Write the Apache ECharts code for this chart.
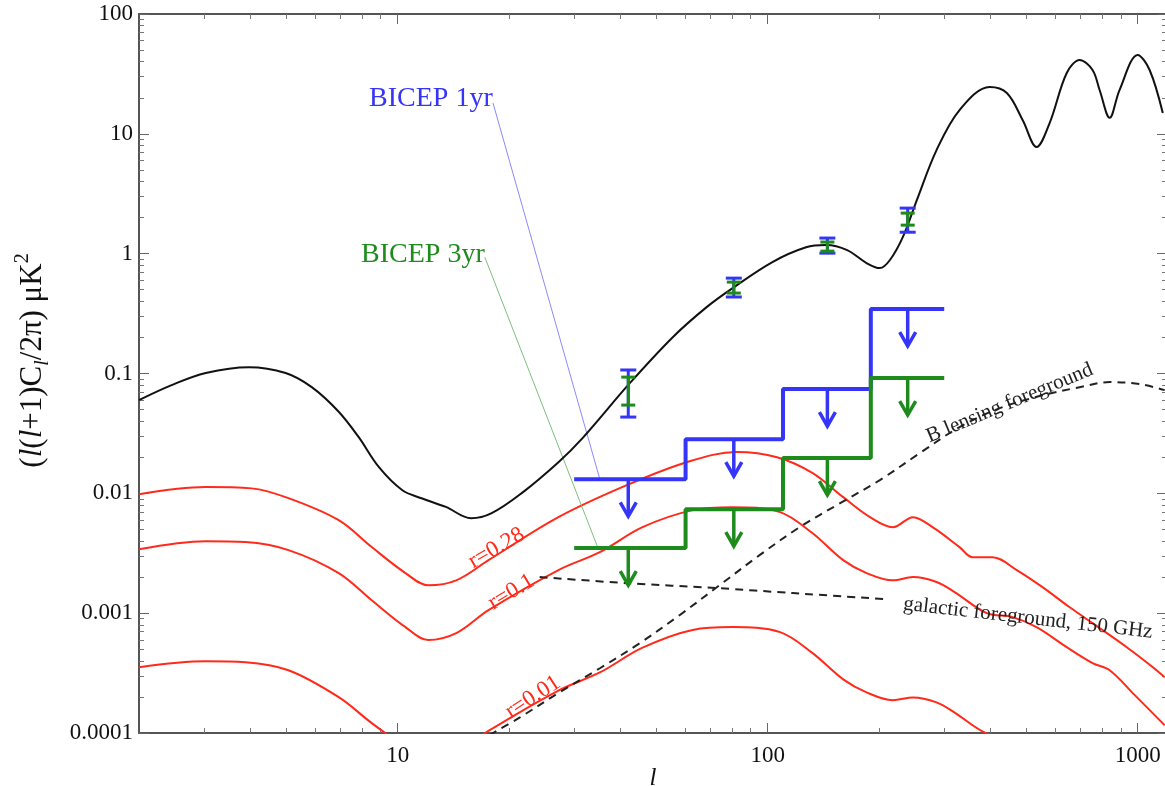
<!DOCTYPE html>
<html>
<head>
<meta charset="utf-8">
<script src="https://cdn.jsdelivr.net/npm/echarts@6/dist/echarts.min.js"></script>
<style>
  html, body { margin: 0; background: #fff; }
  #main { width: 1165px; height: 786px; }
</style>
</head>
<body>
<div id="main"></div>
<script>
// l, l(l+1)C_l/2pi in uK^2
var eeCurve = [[2.0,0.060],[2.45,0.080],[3.03,0.101],[3.96,0.113],[4.98,0.101],[5.86,0.077],[6.93,0.048],
  [7.85,0.0294],[8.89,0.0166],[10.3,0.0106],[11.6,0.0091],[13.5,0.0077],[15.8,0.0062],[17.9,0.0068],
  [21.6,0.0100],[27.2,0.0182],[31.6,0.0289],[42.4,0.083],[55.4,0.201],[68.4,0.358],[80.4,0.516],
  [103,0.851],[127,1.13],[144,1.18],[164,1.07],[185,0.835],[201,0.758],[214,0.885],[232,1.38],
  [253,2.80],[286,7.32],[330,15.8],[398,24.6],[443,21.9],[489,13.0],[533,7.76],
  [578,12.3],[643,32.2],[697,41.3],[755,34.1],[789,23.2],[840,13.6],[893,23.2],[1000,45.5],[1077,34.1],[1169,14.9]];

var bbR028 = [[2.0,0.00984],[3.03,0.0113],[4.03,0.0110],[5.07,0.00912],[6.93,0.00597],[8.51,0.00356],
  [10.5,0.00216],[12.1,0.00171],[14.4,0.00188],[17.6,0.00277],[27.2,0.00633],[41.6,0.0117],[60.4,0.0182],
  [82.4,0.0221],[106,0.0200],[132,0.0148],[160,0.00929],[189,0.00633],[218,0.00522],[247,0.00633],
  [279,0.00522],[330,0.00356],[358,0.00293],[405,0.00293],[471,0.00229],[553,0.00165],[655,0.00112],
  [755,0.000826],[934,0.000520],[1099,0.000354],[1183,0.000292]];

var bbR010 = [[2.0,0.00342],[3.03,0.00399],[3.88,0.00392],[5.07,0.00336],[6.93,0.00216],[8.51,0.00128],
  [10.5,0.000764],[12.1,0.000596],[14.4,0.000681],[17.6,0.00106],[27.2,0.00229],[35.2,0.00323],
  [45.9,0.00522],[62.7,0.00724],[80.4,0.00767],[108,0.00697],[132,0.00466],[160,0.00277],[185,0.00216],
  [218,0.00188],[247,0.00200],[286,0.00182],[320,0.00150],[391,0.00100],[459,0.000927],[533,0.000764],
  [643,0.000520],[755,0.000383],[840,0.000334],[982,0.000207],[1183,0.000116]];

var bbR001 = [[2.0,0.000354],[3.03,0.000397],[3.88,0.000390],[5.07,0.000334],[6.93,0.000199],
  [8.51,0.000121],[10.5,0.0000764],[12.1,0.0000596],[14.4,0.0000681],[17.6,0.000104],[27.2,0.000226],
  [35.2,0.000320],[45.9,0.000515],[62.7,0.000725],[80.4,0.000765],[108,0.000695],[132,0.000466],
  [160,0.000280],[185,0.000218],[218,0.000188],[247,0.000198],[286,0.000180],[320,0.000148],
  [391,0.0000990],[459,0.0000920]];

var lensing = [[17.7,0.0000959],[21.4,0.000135],[27.4,0.000219],[35.2,0.000347],[45.1,0.000562],
  [57.8,0.000962],[74.1,0.00171],[95.1,0.00305],[122,0.00522],[157,0.00828],[201,0.0129],[258,0.0217],
  [330,0.0357],[424,0.0514],[543,0.0648],[697,0.0769],[840,0.0848],[1012,0.0816],[1183,0.0727]];

var galactic = [[24.2,0.00200],[41.6,0.00178],[72.8,0.00162],[117,0.00147],[207,0.00131]];

// BICEP BB upper limits
var binEdges = [30, 60, 110, 190, 300];
var binCentres = [42, 81, 145, 239];
var bicep1yr = [0.0131, 0.0283, 0.0741, 0.345];
var bicep3yr = [0.00349, 0.00738, 0.0197, 0.0916];

// EE band powers: l, low, high
var eeBars1yr = [[42,0.0433,0.107],[81,0.435,0.625],[145,1.01,1.35],[239,1.51,2.40]];
var eeBars3yr = [[42,0.0545,0.0933],[81,0.469,0.579],[145,1.05,1.25],[239,1.73,2.18]];

// axes
var xTicks = [10, 100, 1000];
var xTickLabels = ['10', '100', '1000'];
var xMinor = [3,4,5,6,7,8,9, 20,30,40,50,60,70,80,90, 200,300,400,500,600,700,800,900];
var yTicks = [0.0001, 0.001, 0.01, 0.1, 1, 10, 100];
var yTickLabels = ['0.0001', '0.001', '0.01', '0.1', '1', '10', '100'];
var yMinor = [0.0002,0.0003,0.0004,0.0005,0.0006,0.0007,0.0008,0.0009,
  0.002,0.003,0.004,0.005,0.006,0.007,0.008,0.009,
  0.02,0.03,0.04,0.05,0.06,0.07,0.08,0.09,
  0.2,0.3,0.4,0.5,0.6,0.7,0.8,0.9,
  2,3,4,5,6,7,8,9, 20,30,40,50,60,70,80,90];

var serif = '"Liberation Serif", "DejaVu Serif", serif';
var blue = '#3535f8', green = '#1d8c1d', red = '#ff2a1a';

function tickLabel(ticks, labels) {
  return function (v) {
    for (var i = 0; i < ticks.length; i++) {
      if (Math.abs(Math.log10(v) - Math.log10(ticks[i])) < 1e-6) return labels[i];
    }
    return '';
  };
}

function stepData(edges, levels) {
  var d = [];
  for (var i = 0; i < levels.length; i++) d.push([edges[i], levels[i]]);
  d.push([edges[edges.length - 1], levels[levels.length - 1]]);
  return d;
}

function arrowData(levels) {
  return binCentres.map(function (l, i) { return [l, levels[i]]; });
}

// down arrow hanging from an upper limit
function arrowItem(color) {
  return function (params, api) {
    var p = api.coord([api.value(0), api.value(1)]);
    var len = 37, hw = 8, hh = 14;
    return {
      type: 'group',
      children: [
        { type: 'line', shape: { x1: p[0], y1: p[1], x2: p[0], y2: p[1] + len },
          style: { stroke: color, lineWidth: 3.5 } },
        { type: 'polyline', shape: { points: [[p[0] - hw, p[1] + len - hh], [p[0], p[1] + len], [p[0] + hw, p[1] + len - hh]] },
          style: { stroke: color, fill: null, lineWidth: 3.5 } }
      ]
    };
  };
}

// error bar with caps
function barItem(color, cap) {
  return function (params, api) {
    var lo = api.coord([api.value(0), api.value(1)]);
    var hi = api.coord([api.value(0), api.value(2)]);
    var st = { stroke: color, lineWidth: 3 };
    return {
      type: 'group',
      children: [
        { type: 'line', shape: { x1: lo[0], y1: lo[1], x2: hi[0], y2: hi[1] }, style: st },
        { type: 'line', shape: { x1: lo[0] - cap, y1: lo[1], x2: lo[0] + cap, y2: lo[1] }, style: st },
        { type: 'line', shape: { x1: hi[0] - cap, y1: hi[1], x2: hi[0] + cap, y2: hi[1] }, style: st }
      ]
    };
  };
}

function logAxis(pos, ticks, minor, range, showLine) {
  var main = {
    type: 'log', logBase: 10, position: pos, min: range[0], max: range[1],
    axisLine: { show: showLine, onZero: false, lineStyle: { color: '#555', width: 2 } },
    axisTick: { show: true, inside: true, length: 10, customValues: ticks, lineStyle: { color: '#666', width: 1 } },
    axisLabel: { show: false },
    splitLine: { show: false },
    minorTick: { show: false }
  };
  var sub = {
    type: 'log', logBase: 10, position: pos, min: range[0], max: range[1],
    axisLine: { show: false },
    axisTick: { show: true, inside: true, length: 5, customValues: minor, lineStyle: { color: '#777', width: 1 } },
    axisLabel: { show: false },
    splitLine: { show: false }
  };
  return [main, sub];
}

var xRange = [2, 1200], yRange = [0.0001, 100];
var xb = logAxis('bottom', xTicks, xMinor, xRange, true);
var xt = logAxis('top', xTicks, xMinor, xRange, true);
var yl = logAxis('left', yTicks, yMinor, yRange, true);
var yr = logAxis('right', yTicks, yMinor, yRange, false);

xb[0].axisLabel = { show: true, customValues: xTicks, formatter: tickLabel(xTicks, xTickLabels),
  margin: 11, color: '#111', fontFamily: serif, fontSize: 23 };
xb[0].name = '{i|l}';
xb[0].nameLocation = 'middle';
xb[0].nameGap = 33;
xb[0].nameMoveOverlap = false;
xb[0].nameTextStyle = { rich: { i: { fontFamily: serif, fontStyle: 'italic', fontSize: 25, color: '#111' } } };

yl[0].axisLabel = { show: true, customValues: yTicks, formatter: tickLabel(yTicks, yTickLabels),
  margin: 6, color: '#111', fontFamily: serif, fontSize: 23 };
yl[0].name = '{n|(}{i|l}{n|(}{i|l}{n|+1)C}{s|l}{n|/2π) μK}{p|2}';
yl[0].nameLocation = 'middle';
yl[0].nameGap = 86;
yl[0].nameMoveOverlap = false;
yl[0].nameTextStyle = {
  padding: [0, 0, 0, 26],
  rich: {
    n: { fontFamily: serif, fontSize: 31, color: '#111', lineHeight: 40 },
    i: { fontFamily: serif, fontSize: 31, fontStyle: 'italic', color: '#111', lineHeight: 40 },
    s: { fontFamily: serif, fontSize: 20, fontStyle: 'italic', color: '#111', lineHeight: 20, verticalAlign: 'bottom' },
    p: { fontFamily: serif, fontSize: 20, color: '#111', lineHeight: 20, verticalAlign: 'top' }
  }
};

var chart = echarts.init(document.getElementById('main'));

var option = {
  animation: false,
  backgroundColor: '#fff',
  grid: { left: 139, right: -2, top: 14, bottom: 53, containLabel: false, outerBoundsMode: 'none' },
  xAxis: [xb[0], xb[1], xt[0], xt[1]],
  yAxis: [yl[0], yl[1], yr[0], yr[1]],
  series: [
    { name: 'EE', type: 'line', data: eeCurve, smooth: 0.35, showSymbol: false,
      lineStyle: { color: '#111', width: 2 }, z: 3 },
    { name: 'r=0.28', type: 'line', data: bbR028, smooth: 0.35, showSymbol: false,
      lineStyle: { color: red, width: 2 }, z: 2 },
    { name: 'r=0.1', type: 'line', data: bbR010, smooth: 0.35, showSymbol: false,
      lineStyle: { color: red, width: 2 }, z: 2 },
    { name: 'r=0.01', type: 'line', data: bbR001, smooth: 0.35, showSymbol: false,
      lineStyle: { color: red, width: 2 }, z: 2 },
    { name: 'lensing', type: 'line', data: lensing, smooth: 0.35, showSymbol: false,
      lineStyle: { color: '#222', width: 2, type: [8, 6] }, z: 2 },
    { name: 'galactic', type: 'line', data: galactic, smooth: 0.3, showSymbol: false,
      lineStyle: { color: '#222', width: 2, type: [8, 6] }, z: 2 },
    { name: 'BICEP 1yr', type: 'line', step: 'end', data: stepData(binEdges, bicep1yr), showSymbol: false,
      lineStyle: { color: blue, width: 4 }, z: 4 },
    { name: 'BICEP 3yr', type: 'line', step: 'end', data: stepData(binEdges, bicep3yr), showSymbol: false,
      lineStyle: { color: green, width: 4 }, z: 5 },
    { type: 'custom', data: arrowData(bicep1yr), renderItem: arrowItem(blue), z: 4 },
    { type: 'custom', data: arrowData(bicep3yr), renderItem: arrowItem(green), z: 5 },
    { type: 'custom', data: eeBars1yr, encode: { x: 0, y: [1, 2] }, renderItem: barItem(blue, 8), z: 6 },
    { type: 'custom', data: eeBars3yr, encode: { x: 0, y: [1, 2] }, renderItem: barItem(green, 7), z: 7 }
  ]
};
chart.setOption(option);

// annotations, anchored in data coordinates
var notes = [
  { text: 'BICEP 1yr', at: [12.3, 19.5], color: blue, size: 28, angle: 0 },
  { text: 'BICEP 3yr', at: [11.7, 0.973], color: green, size: 28, angle: 0 },
  { text: 'r=0.28', at: [18.5, 0.00349], color: red, size: 23, angle: 30 },
  { text: 'r=0.1', at: [20.3, 0.0015], color: red, size: 23, angle: 31 },
  { text: 'r=0.01', at: [23.2, 0.000199], color: red, size: 23, angle: 33 },
  { text: 'B lensing foreground', at: [451, 0.0566], color: '#222', size: 21, angle: 22.6 },
  { text: 'galactic foreground, 150 GHz', at: [505, 0.000908], color: '#222', size: 21, angle: -6.5 }
];
var leaders = [
  { from: [18.1, 18.1], to: [35.2, 0.0131], color: '#8a8aff' },
  { from: [17.2, 0.937], to: [34.8, 0.00349], color: '#7cc07c' }
];

var graphics = [];
leaders.forEach(function (d) {
  var a = chart.convertToPixel({ seriesIndex: 0 }, d.from);
  var b = chart.convertToPixel({ seriesIndex: 0 }, d.to);
  graphics.push({ type: 'line', z: 3, shape: { x1: a[0], y1: a[1], x2: b[0], y2: b[1] },
    style: { stroke: d.color, lineWidth: 1 } });
});
notes.forEach(function (d) {
  var p = chart.convertToPixel({ seriesIndex: 0 }, d.at);
  graphics.push({ type: 'text', z: 10, x: p[0], y: p[1], rotation: d.angle * Math.PI / 180,
    style: { text: d.text, fill: d.color, fontFamily: serif, fontSize: d.size, align: 'center', verticalAlign: 'middle' } });
});
chart.setOption({ graphic: graphics });
</script>
</body>
</html>
